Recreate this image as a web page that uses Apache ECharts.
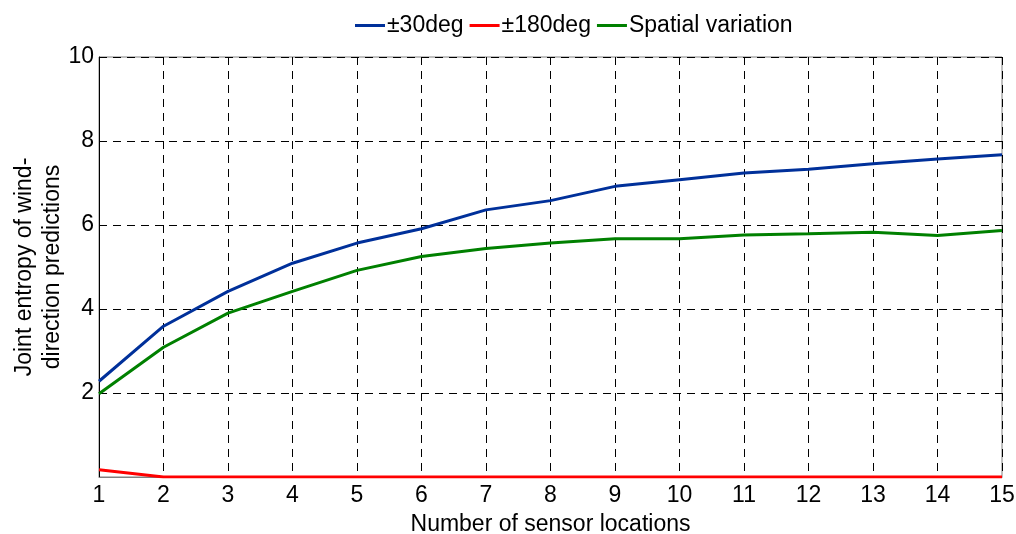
<!DOCTYPE html>
<html>
<head>
<meta charset="utf-8">
<script src="https://cdn.jsdelivr.net/npm/echarts@6/dist/echarts.min.js"></script>
<style>
  html, body { margin: 0; padding: 0; background: #fff; }
  #chart { width: 1016px; height: 534px; }
</style>
</head>
<body>
<div id="chart"></div>
<script>
// sensor counts on the x axis
const sensorCounts = [1, 2, 3, 4, 5, 6, 7, 8, 9, 10, 11, 12, 13, 14, 15];
// joint entropy for each setting
const deg30 = [2.28, 3.59, 4.42, 5.09, 5.57, 5.91, 6.36, 6.58, 6.92, 7.08, 7.24, 7.33, 7.46, 7.57, 7.67];
const deg180 = [0.17, 0, 0, 0, 0, 0, 0, 0, 0, 0, 0, 0, 0, 0, 0];
const spatial = [1.98, 3.09, 3.90, 4.42, 4.92, 5.25, 5.44, 5.57, 5.67, 5.67, 5.76, 5.79, 5.83, 5.75, 5.87];
const seriesNames = ["\u00b130deg", "\u00b1180deg", "Spatial variation"];

const font = "Liberation Sans";

function pairs(vals) {
  return sensorCounts.map((x, i) => [x, vals[i]]);
}

var myChart = echarts.init(document.getElementById("chart"));
var option = {
  animation: false,
  textStyle: { fontFamily: font },
  legend: {
    top: 9,
    left: 350,
    itemWidth: 30,
    itemHeight: 3,
    itemGap: 6,
    icon: "rect",
    textStyle: { fontSize: 23, color: "#000", fontFamily: font, padding: [0, 0, 0, -3] },
    data: seriesNames,
  },
  grid: {
    left: 99,
    right: 14,
    top: 57,
    bottom: 57,
    outerBoundsMode: "none",
    show: true,
    borderColor: "#808080",
    borderWidth: 1,
  },
  xAxis: {
    type: "value",
    min: 1,
    max: 15,
    interval: 1,
    name: "Number of sensor locations",
    nameLocation: "middle",
    nameGap: 36,
    nameTextStyle: { fontSize: 23, color: "#000", fontFamily: font },
    axisLine: { show: true, lineStyle: { color: "#808080", width: 1 } },
    axisTick: { show: false },
    axisLabel: { fontSize: 23, color: "#000", margin: 7, fontFamily: font },
    splitLine: { show: true, lineStyle: { type: [8, 6], color: "#000", width: 1 } },
  },
  yAxis: {
    type: "value",
    min: 0,
    max: 10,
    interval: 2,
    name: "Joint entropy of wind-\ndirection predictions",
    nameLocation: "middle",
    nameGap: 32,
    nameMoveOverlap: false,
    nameTextStyle: { fontSize: 23, color: "#000", lineHeight: 28, fontFamily: font },
    axisLine: { show: true, lineStyle: { color: "#000", width: 1 } },
    axisTick: { show: false },
    axisLabel: {
      fontSize: 23,
      color: "#000",
      margin: 5,
      fontFamily: font,
      formatter: function (v) { return v === 0 ? "" : String(v); },
    },
    splitLine: { show: true, lineStyle: { type: [8, 6], color: "#000", width: 1 } },
  },
  series: [
    {
      name: seriesNames[0],
      type: "line",
      data: pairs(deg30),
      showSymbol: false,
      lineStyle: { color: "#00309a", width: 3 },
      itemStyle: { color: "#00309a" },
      z: 3,
    },
    {
      name: seriesNames[1],
      type: "line",
      data: pairs(deg180),
      showSymbol: false,
      lineStyle: { color: "#ff0000", width: 3 },
      itemStyle: { color: "#ff0000" },
      z: 3,
    },
    {
      name: seriesNames[2],
      type: "line",
      data: pairs(spatial),
      showSymbol: false,
      lineStyle: { color: "#008000", width: 3 },
      itemStyle: { color: "#008000" },
      z: 3,
    },
  ],
};
myChart.setOption(option);
</script>
</body>
</html>
